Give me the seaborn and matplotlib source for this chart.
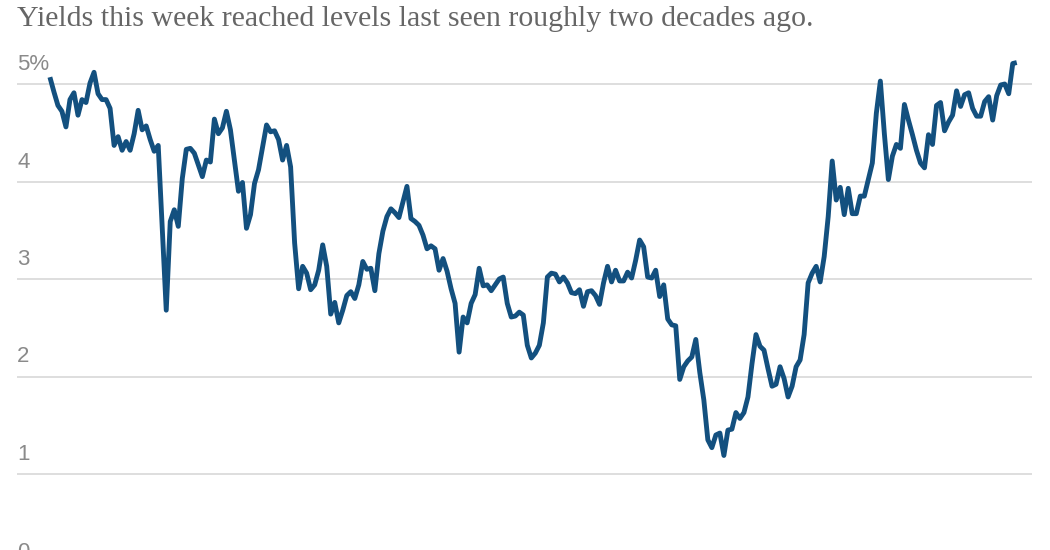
import matplotlib
matplotlib.use('Agg')
import matplotlib.pyplot as plt
import seaborn as sns
import pandas as pd

# monthly index (since start of chart) and yield in percent
months = [0, 1, 2, 3, 4, 5, 6, 7, 8, 9, 10, 11, 12, 13, 14, 15, 16, 17, 18, 19,
          20, 21, 22, 23, 24, 25, 26, 27, 29, 30, 31, 32, 33, 34, 35, 36, 38, 39, 40, 41,
          42, 43, 44, 45, 47, 48, 49, 50, 51, 52, 54, 55, 56, 57, 58, 59, 60, 61, 62, 63,
          64, 65, 66, 67, 68, 69, 70, 71, 72, 73, 74, 75, 76, 77, 78, 79, 80, 81, 82, 83,
          84, 85, 86, 87, 88, 89, 90, 91, 92, 93, 94, 95, 96, 97, 98, 99, 100, 101, 102, 103,
          104, 105, 106, 107, 108, 109, 110, 111, 112, 113, 114, 115, 116, 117, 118, 119, 120, 121, 122, 123,
          124, 125, 126, 127, 128, 129, 130, 131, 132, 133, 134, 135, 136, 137, 138, 139, 140, 141, 142, 143,
          144, 145, 146, 147, 148, 149, 150, 151, 152, 153, 154, 155, 156, 157, 158, 159, 160, 161, 162, 163,
          164, 165, 166, 167, 168, 169, 170, 171, 172, 173, 174, 175, 176, 177, 178, 179, 180, 181, 182, 183,
          184, 185, 186, 187, 188, 189, 190, 191, 192, 193, 194, 195, 196, 197, 198, 199, 200, 201, 202, 203,
          204, 205, 206, 207, 208, 209, 210, 211, 212, 213, 214, 215, 216, 217, 218, 219, 220, 221, 222, 223,
          224, 225, 226, 227, 228, 229, 230, 231, 232, 233, 234, 235, 236, 237, 238, 239, 240, 241]

yields = [5.07, 4.92, 4.78, 4.72, 4.56, 4.84, 4.91, 4.68, 4.84, 4.81, 5.01, 5.12, 4.90, 4.84, 4.84, 4.75, 4.37, 4.46, 4.32, 4.41,
          4.32, 4.49, 4.73, 4.53, 4.57, 4.43, 4.31, 4.37, 2.68, 3.59, 3.71, 3.54, 4.03, 4.33, 4.34, 4.29, 4.05, 4.22, 4.20, 4.64,
          4.49, 4.55, 4.72, 4.53, 3.90, 3.99, 3.52, 3.66, 3.98, 4.12, 4.58, 4.51, 4.52, 4.43, 4.22, 4.37, 4.15, 3.37, 2.90, 3.13,
          3.06, 2.89, 2.94, 3.09, 3.35, 3.13, 2.64, 2.76, 2.55, 2.68, 2.83, 2.87, 2.80, 2.94, 3.18, 3.10, 3.11, 2.88, 3.26, 3.49,
          3.64, 3.72, 3.68, 3.63, 3.79, 3.95, 3.62, 3.59, 3.55, 3.45, 3.31, 3.34, 3.31, 3.09, 3.21, 3.08, 2.90, 2.75, 2.25, 2.61,
          2.55, 2.75, 2.84, 3.11, 2.93, 2.94, 2.88, 2.94, 3.00, 3.02, 2.75, 2.61, 2.62, 2.66, 2.63, 2.32, 2.19, 2.24, 2.32, 2.55,
          3.02, 3.06, 3.05, 2.97, 3.02, 2.96, 2.86, 2.85, 2.89, 2.72, 2.87, 2.88, 2.83, 2.74, 2.96, 3.13, 2.97, 3.09, 2.98, 2.98,
          3.07, 3.01, 3.19, 3.40, 3.33, 3.02, 3.01, 3.09, 2.82, 2.94, 2.59, 2.53, 2.52, 1.97, 2.10, 2.16, 2.20, 2.38, 2.04, 1.76,
          1.35, 1.27, 1.40, 1.42, 1.19, 1.45, 1.46, 1.63, 1.57, 1.63, 1.79, 2.13, 2.43, 2.31, 2.27, 2.08, 1.90, 1.92, 2.10, 1.98,
          1.79, 1.90, 2.10, 2.17, 2.43, 2.96, 3.06, 3.13, 2.97, 3.23, 3.64, 4.21, 3.81, 3.94, 3.66, 3.93, 3.67, 3.67, 3.85, 3.85,
          4.02, 4.19, 4.70, 5.03, 4.49, 4.02, 4.26, 4.38, 4.34, 4.79, 4.63, 4.48, 4.32, 4.19, 4.14, 4.48, 4.38, 4.78, 4.81, 4.52,
          4.61, 4.68, 4.93, 4.77, 4.89, 4.91, 4.75, 4.67, 4.67, 4.82, 4.87, 4.63, 4.88, 4.99, 5.00, 4.90, 5.21, 5.22]

grid_values = [1, 2, 3, 4, 5]
grid_labels = ['1', '2', '3', '4', '5%']
title = 'Yields this week reached levels last seen roughly two decades ago.'

df = pd.DataFrame({'month': months, 'yield': yields})

sns.set_style('white')
plt.rcParams['font.family'] = ['Liberation Sans', 'DejaVu Sans']

fig = plt.figure(figsize=(10.5, 5.5), dpi=100)
ax = fig.add_axes([17 / 1050, 0, (1032 - 17) / 1050, 490 / 550])

# light horizontal gridlines with labels sitting on top of them
for v, lab in zip([0] + grid_values, ['0'] + grid_labels):
    if v > 0:
        ax.axhline(v, color='#dedede', lw=1.4, zorder=1)
    ax.annotate(lab, xy=(0, v), xycoords=('axes fraction', 'data'),
                xytext=(0, 9), textcoords='offset pixels',
                ha='left', va='bottom', fontsize=16, color='#8a8a8a',
                annotation_clip=False)

sns.lineplot(data=df, x='month', y='yield', ax=ax, color='#13507f', lw=3.5,
             solid_joinstyle='round', solid_capstyle='butt', zorder=3)

ax.set_xlim(months[0] - 8.2, months[-1] + 3.8)
# 5 sits 84px from top, 97.5px per point
top = 5 + 24 / 97.5
bottom = 5 - (550 - 84) / 97.5
ax.set_ylim(bottom, top)
ax.axis('off')

fig.text(17 / 1050, 1 - 26 / 550, title, family=['Liberation Serif', 'DejaVu Serif'],
         fontsize=21.5, color='#666666', ha='left', va='baseline')

fig.savefig('out.png', dpi=100)
